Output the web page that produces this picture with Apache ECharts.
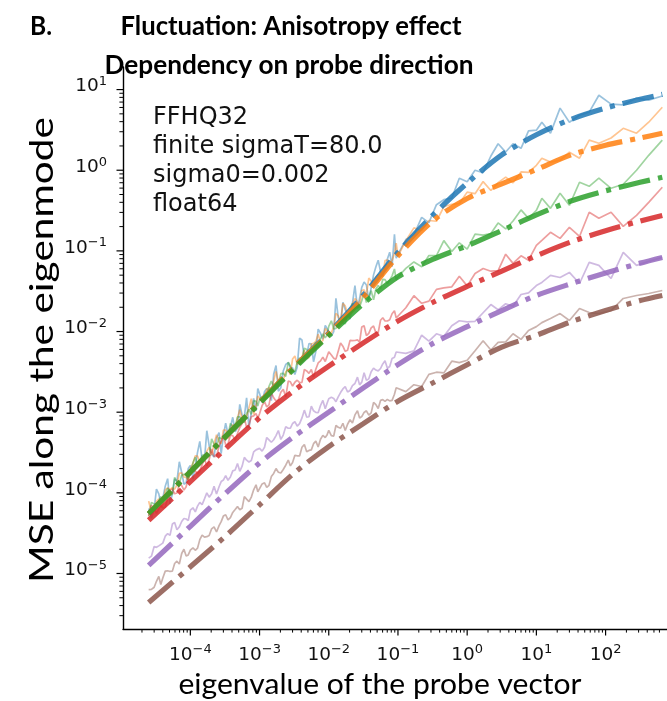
<!DOCTYPE html>
<html>
<head>
<meta charset="utf-8">
<script src="https://cdn.jsdelivr.net/npm/echarts@6/dist/echarts.min.js"></script>
<style>
  html, body { margin: 0; padding: 0; background: #fff; }
  #chart { width: 667px; height: 701px; }
</style>
</head>
<body>
<div id="chart"></div>
<script>
// Probe eigenvalues (x) shared by all measured curves
const eigvals = [
  2.5e-5, 2.74e-5, 3e-5, 3.24e-5, 3.5e-5, 3.74e-5, 4e-5, 4.34e-5, 4.7e-5, 5.08e-5, 5.5e-5, 5.93e-5, 6.4e-5, 6.93e-5, 7.5e-5, 8.08e-5, 8.7e-5, 9.33e-5,
  1e-4, 1.09e-4, 1.18e-4, 1.27e-4, 1.37e-4, 1.48e-4, 1.6e-4, 1.73e-4, 1.87e-4, 2.03e-4, 2.2e-4, 2.39e-4, 2.6e-4, 2.79e-4, 3e-4, 3.24e-4, 3.5e-4, 3.79e-4, 4.1e-4, 4.44e-4, 4.8e-4, 5.18e-4, 5.6e-4, 6.03e-4, 6.5e-4, 7.03e-4, 7.6e-4, 8.22e-4, 8.9e-4, 9.43e-4,
  1e-3, 1.09e-3, 1.18e-3, 1.27e-3, 1.37e-3, 1.48e-3, 1.6e-3, 1.73e-3, 1.87e-3, 2.03e-3, 2.2e-3, 2.39e-3, 2.6e-3, 2.79e-3, 3e-3, 3.24e-3, 3.5e-3, 3.79e-3, 4.1e-3, 4.44e-3, 4.8e-3, 5.18e-3, 5.6e-3, 6.03e-3, 6.5e-3, 7.03e-3, 7.6e-3, 8.22e-3, 8.9e-3, 9.43e-3,
  1e-2, 1.09e-2, 1.18e-2, 1.27e-2, 1.37e-2, 1.48e-2, 1.6e-2, 1.73e-2, 1.87e-2, 2.03e-2, 2.2e-2, 2.39e-2, 2.6e-2, 2.79e-2, 3e-2, 3.24e-2, 3.5e-2, 3.79e-2, 4.1e-2, 4.44e-2, 4.8e-2, 5.18e-2, 5.6e-2, 6.03e-2, 6.5e-2, 7.03e-2, 7.6e-2, 8.22e-2, 8.9e-2, 9.43e-2,
  0.1, 0.13, 0.17, 0.22, 0.28, 0.36, 0.46, 0.6, 0.77, 1, 1.3, 1.7, 2.2, 2.8, 3.6, 4.6, 6, 7.7,
  10, 12, 16, 22, 30, 42, 58, 80, 120, 180, 280, 420, 660
];

// Measured MSE along each eigenmode
const mseBlue = [
  6.4e-5, 4.85e-5, 6.3e-5, 1.11e-4, 9.7e-5, 7.48e-5, 8.6e-5, 1.21e-4, 1.5e-4, 7.29e-5, 9.7e-5, 1.49e-4, 1.39e-4, 2.43e-4, 1.79e-4, 1.28e-4, 1.34e-4, 2.0e-4,
  2.19e-4, 1.5e-4, 2.15e-4, 3.18e-4, 4.35e-4, 2.54e-4, 2.54e-4, 5.89e-4, 3.84e-4, 3.02e-4, 2.78e-4, 4.8e-4, 5.58e-4, 3.07e-4, 5.13e-4, 7.33e-4, 5.35e-4, 6.47e-4, 8.65e-4, 5.73e-4, 6.4e-4, 1.25e-3, 9.18e-4, 8.77e-4, 1.51e-3, 6.37e-4, 9.95e-4, 1.48e-3, 1.04e-3, 1.96e-3,
  1.7e-3, 1.32e-3, 1.79e-3, 1.97e-3, 1.82e-3, 1.39e-3, 2.95e-3, 3.79e-3, 1.82e-3, 2.01e-3, 3.24e-3, 3.9e-3, 4.12e-3, 3.56e-3, 3.55e-3, 2.94e-3, 3.61e-3, 8.28e-3, 7.85e-3, 4.65e-3, 5.04e-3, 7.08e-3, 7.05e-3, 4.22e-3, 5.66e-3, 1.07e-2, 9.55e-3, 8.05e-3, 1.19e-2, 1.21e-2,
  1.0e-2, 8.75e-3, 9.95e-3, 2.58e-2, 1.51e-2, 1.25e-2, 2.3e-2, 1.87e-2, 1.64e-2, 1.43e-2, 2.24e-2, 3.72e-2, 1.91e-2, 2.58e-2, 3.53e-2, 4.11e-2, 3.78e-2, 2.46e-2, 3.47e-2, 5.04e-2, 6.34e-2, 7.67e-2, 5.53e-2, 4.89e-2, 5.92e-2, 7.94e-2, 9.64e-2, 6.37e-2, 0.161, 8.1e-2,
  9.04e-2, 0.138, 0.158, 0.26, 0.224, 0.374, 0.431, 0.451, 0.796, 0.718, 1.0, 0.931, 1.5, 2.13, 1.68, 2.13, 1.87, 3.07,
  3.14, 3.94, 2.88, 5.89, 3.94, 4.82, 5.25, 8.51, 6.61, 6.46, 7.85, 7.41, 8.32
];
const mseOrange = [
  7.9e-5, 5.75e-5, 6.2e-5, 7.83e-5, 8.4e-5, 6.64e-5, 7.2e-5, 1.09e-4, 1.15e-4, 1.1e-4, 1.16e-4, 1.11e-4, 1.25e-4, 1.75e-4, 1.77e-4, 1.57e-4, 1.55e-4, 1.42e-4,
  2.0e-4, 2.31e-4, 2.88e-4, 2.86e-4, 2.36e-4, 2.52e-4, 2.54e-4, 3.27e-4, 3.68e-4, 2.95e-4, 4.0e-4, 5.25e-4, 4.32e-4, 4.07e-4, 6.0e-4, 6.0e-4, 4.72e-4, 6.12e-4, 7.03e-4, 5.97e-4, 8.5e-4, 1.07e-3, 8.22e-4, 8.57e-4, 8.73e-4, 1.13e-3, 1.47e-3, 9.38e-4, 1.19e-3, 1.58e-3,
  1.49e-3, 1.45e-3, 1.4e-3, 1.92e-3, 2.03e-3, 1.75e-3, 2.45e-3, 3.21e-3, 2.38e-3, 2.39e-3, 2.49e-3, 3.14e-3, 3.41e-3, 2.92e-3, 4.57e-3, 4.97e-3, 3.9e-3, 4.39e-3, 4.91e-3, 5.87e-3, 4.61e-3, 4.78e-3, 7.01e-3, 7.13e-3, 7.53e-3, 9.23e-3, 7.38e-3, 7.74e-3, 1.09e-2, 1.02e-2,
  1.01e-2, 9.64e-3, 1.14e-2, 1.68e-2, 1.57e-2, 1.29e-2, 2.23e-2, 2.08e-2, 1.65e-2, 1.85e-2, 2.19e-2, 2.56e-2, 2.34e-2, 2.14e-2, 3.23e-2, 3.29e-2, 2.86e-2, 4.61e-2, 4.21e-2, 3.69e-2, 4.74e-2, 5.09e-2, 4.92e-2, 4.84e-2, 7.59e-2, 7.71e-2, 7.05e-2, 7.59e-2, 9.27e-2, 0.125,
  8.63e-2, 0.134, 0.193, 0.179, 0.238, 0.233, 0.352, 0.378, 0.387, 0.535, 0.512, 0.723, 0.561, 0.703, 0.822, 0.697, 0.953, 0.94,
  1.15, 1.41, 1.26, 1.33, 1.67, 1.41, 2.36, 2.16, 2.51, 3.31, 2.88, 3.94, 6.03
];
const mseGreen = [
  5.1e-5, 7.62e-5, 7.28e-5, 6.34e-5, 7.94e-5, 8.95e-5, 8.41e-5, 9.23e-5, 1.15e-4, 9.2e-5, 9.66e-5, 1.55e-4, 1.37e-4, 1.31e-4, 1.65e-4, 1.7e-4, 1.63e-4, 1.46e-4,
  1.74e-4, 2.35e-4, 2.77e-4, 2.25e-4, 2.36e-4, 2.9e-4, 2.99e-4, 2.73e-4, 2.88e-4, 4.68e-4, 4.02e-4, 3.71e-4, 4.86e-4, 4.73e-4, 4.79e-4, 4.5e-4, 5.05e-4, 7.26e-4, 6.64e-4, 6.67e-4, 8.73e-4, 8.75e-4, 7.82e-4, 7.46e-4, 9.64e-4, 1.08e-3, 9.4e-4, 1.38e-3, 1.37e-3, 1.19e-3,
  1.45e-3, 1.55e-3, 1.47e-3, 1.51e-3, 2.09e-3, 2.43e-3, 2.07e-3, 1.96e-3, 2.23e-3, 3.0e-3, 3.03e-3, 2.78e-3, 4.17e-3, 3.71e-3, 3.27e-3, 3.2e-3, 4.19e-3, 4.69e-3, 4.47e-3, 6.22e-3, 5.98e-3, 5.09e-3, 5.41e-3, 6.64e-3, 7.38e-3, 6.31e-3, 8.13e-3, 9.35e-3, 8.36e-3, 9.02e-3,
  1.16e-2, 1.36e-2, 1.08e-2, 1.09e-2, 1.33e-2, 1.41e-2, 1.28e-2, 1.25e-2, 1.75e-2, 1.95e-2, 2.23e-2, 1.99e-2, 2.0e-2, 2.02e-2, 2.41e-2, 2.98e-2, 2.29e-2, 2.7e-2, 3.21e-2, 2.48e-2, 3.37e-2, 3.73e-2, 3.42e-2, 4.44e-2, 4.4e-2, 3.94e-2, 4.36e-2, 4.9e-2, 5.96e-2, 4.37e-2,
  4.74e-2, 6.08e-2, 7.29e-2, 6.34e-2, 8.75e-2, 8.73e-2, 0.134, 9.84e-2, 0.126, 0.105, 0.161, 0.157, 0.164, 0.222, 0.187, 0.235, 0.322, 0.253,
  0.318, 0.449, 0.337, 0.518, 0.367, 0.71, 0.632, 0.796, 0.597, 0.67, 1.0, 1.53, 2.36
];
const mseRed = [
  5.22e-5, 7.03e-5, 6.37e-5, 5.57e-5, 6.31e-5, 7.01e-5, 6.5e-5, 6.62e-5, 8.55e-5, 1.07e-4, 1.12e-4, 9.73e-5, 9.95e-5, 1.27e-4, 1.23e-4, 1.08e-4, 1.19e-4, 1.55e-4,
  1.7e-4, 1.96e-4, 1.86e-4, 1.72e-4, 1.86e-4, 2.24e-4, 2.64e-4, 2.16e-4, 2.59e-4, 3.49e-4, 2.83e-4, 2.84e-4, 3.84e-4, 4.34e-4, 5.14e-4, 3.93e-4, 4.03e-4, 5.18e-4, 5.13e-4, 4.46e-4, 5.43e-4, 6.47e-4, 7.21e-4, 8.51e-4, 6.46e-4, 6.9e-4, 8.81e-4, 8.99e-4, 9.64e-4, 8.37e-4,
  9.55e-4, 1.21e-3, 1.35e-3, 1.16e-3, 1.23e-3, 1.75e-3, 1.51e-3, 1.38e-3, 1.43e-3, 1.77e-3, 1.92e-3, 1.55e-3, 2.43e-3, 2.38e-3, 2.11e-3, 2.35e-3, 2.49e-3, 2.32e-3, 2.34e-3, 3.38e-3, 3.25e-3, 3.03e-3, 3.38e-3, 2.74e-3, 3.4e-3, 4.08e-3, 4.33e-3, 4.82e-3, 4.25e-3, 4.21e-3,
  5.62e-3, 5.12e-3, 4.65e-3, 4.55e-3, 5.68e-3, 7.21e-3, 6.58e-3, 5.68e-3, 5.86e-3, 7.76e-3, 7.73e-3, 7.74e-3, 7.87e-3, 7.4e-3, 1.14e-2, 1.18e-2, 8.89e-3, 9.51e-3, 1.11e-2, 1.17e-2, 9.62e-3, 9.68e-3, 1.38e-2, 1.48e-2, 1.35e-2, 1.35e-2, 1.4e-2, 1.66e-2, 1.81e-2, 1.47e-2,
  1.52e-2, 1.97e-2, 2.78e-2, 2.24e-2, 2.38e-2, 3.33e-2, 3.47e-2, 3.58e-2, 4.84e-2, 3.68e-2, 5.24e-2, 6.05e-2, 5.6e-2, 5.68e-2, 9.1e-2, 7.0e-2, 8.69e-2, 7.67e-2,
  0.117, 0.135, 0.17, 0.143, 0.196, 0.151, 0.301, 0.254, 0.301, 0.201, 0.276, 0.40, 0.615
];
const msePurple = [
  1.55e-5, 1.64e-5, 2.16e-5, 2.11e-5, 2.2e-5, 2.09e-5, 2.38e-5, 2.9e-5, 3.12e-5, 2.97e-5, 4.1e-5, 4.29e-5, 3.49e-5, 3.78e-5, 4.41e-5, 4.81e-5, 4.74e-5, 4.52e-5,
  6.1e-5, 6.53e-5, 5.81e-5, 6.85e-5, 7.62e-5, 7.13e-5, 8.41e-5, 1.0e-4, 8.83e-5, 9.77e-5, 1.21e-4, 9.68e-5, 1.19e-4, 1.38e-4, 1.44e-4, 1.64e-4, 1.43e-4, 1.57e-4, 1.87e-4, 1.92e-4, 2.31e-4, 1.85e-4, 2.14e-4, 2.75e-4, 2.54e-4, 2.41e-4, 2.52e-4, 3.21e-4, 3.41e-4, 3.31e-4,
  3.56e-4, 3.29e-4, 3.67e-4, 4.85e-4, 4.54e-4, 4.24e-4, 4.55e-4, 5.13e-4, 5.93e-4, 4.59e-4, 5.2e-4, 6.59e-4, 6.32e-4, 6.34e-4, 7.24e-4, 7.62e-4, 6.71e-4, 7.21e-4, 8.49e-4, 1.06e-3, 8.69e-4, 8.77e-4, 1.19e-3, 1.04e-3, 9.93e-4, 9.86e-4, 1.21e-3, 1.4e-3, 1.1e-3, 1.28e-3,
  1.47e-3, 1.53e-3, 1.48e-3, 1.35e-3, 1.55e-3, 1.75e-3, 1.94e-3, 2.07e-3, 1.78e-3, 1.86e-3, 2.14e-3, 2.27e-3, 2.72e-3, 2.18e-3, 2.36e-3, 3.08e-3, 2.48e-3, 2.59e-3, 3.17e-3, 3.52e-3, 3.33e-3, 3.25e-3, 3.48e-3, 3.97e-3, 4.34e-3, 3.51e-3, 3.69e-3, 4.62e-3, 4.8e-3, 5.58e-3,
  5.43e-3, 5.37e-3, 5.75e-3, 9.0e-3, 7.59e-3, 9.38e-3, 8.71e-3, 1.18e-2, 1.36e-2, 1.32e-2, 1.34e-2, 1.71e-2, 2.16e-2, 1.86e-2, 2.21e-2, 2.06e-2, 2.88e-2, 3.01e-2,
  3.72e-2, 4.06e-2, 4.97e-2, 4.68e-2, 5.41e-2, 3.94e-2, 7.19e-2, 6.61e-2, 4.55e-2, 9.57e-2, 6.61e-2, 7.41e-2, 8.3e-2
];
const mseBrown = [
  6.31e-6, 6.34e-6, 6.75e-6, 8.0e-6, 9.2e-6, 7.31e-6, 8.79e-6, 1.07e-5, 1.08e-5, 1.06e-5, 1.07e-5, 1.33e-5, 1.42e-5, 1.31e-5, 1.77e-5, 2.0e-5, 1.65e-5, 1.7e-5,
  1.95e-5, 2.08e-5, 1.94e-5, 2.06e-5, 2.63e-5, 2.99e-5, 2.82e-5, 2.86e-5, 2.96e-5, 3.58e-5, 3.78e-5, 3.27e-5, 3.92e-5, 4.39e-5, 5.15e-5, 5.35e-5, 4.61e-5, 4.94e-5, 5.71e-5, 6.21e-5, 6.75e-5, 6.17e-5, 6.44e-5, 8.99e-5, 8.37e-5, 7.8e-5, 8.85e-5, 1.09e-4, 1.26e-4, 1.03e-4,
  1.05e-4, 1.29e-4, 1.33e-4, 1.17e-4, 1.24e-4, 1.59e-4, 1.74e-4, 2.0e-4, 1.8e-4, 1.76e-4, 1.95e-4, 2.2e-4, 2.55e-4, 2.16e-4, 2.38e-4, 2.92e-4, 2.88e-4, 2.87e-4, 3.67e-4, 3.97e-4, 3.24e-4, 3.36e-4, 3.41e-4, 4.07e-4, 4.37e-4, 3.71e-4, 4.61e-4, 5.16e-4, 4.84e-4, 5.2e-4,
  5.96e-4, 5.12e-4, 5.06e-4, 6.84e-4, 6.5e-4, 6.32e-4, 7.29e-4, 5.92e-4, 7.08e-4, 8.05e-4, 7.33e-4, 9.25e-4, 1.04e-3, 8.45e-4, 8.83e-4, 9.93e-4, 1.04e-3, 9.2e-4, 9.82e-4, 1.32e-3, 1.24e-3, 1.11e-3, 1.4e-3, 1.43e-3, 1.36e-3, 1.44e-3, 1.38e-3, 1.4e-3, 1.67e-3, 2.01e-3,
  2.05e-3, 1.8e-3, 2.19e-3, 2.08e-3, 2.94e-3, 3.13e-3, 3.07e-3, 4.29e-3, 4.11e-3, 4.41e-3, 5.77e-3, 7.67e-3, 5.9e-3, 7.33e-3, 7.45e-3, 9.38e-3, 8.0e-3, 1.03e-2,
  1.15e-2, 1.29e-2, 1.45e-2, 1.67e-2, 1.37e-2, 1.93e-2, 1.72e-2, 1.67e-2, 1.82e-2, 2.57e-2, 2.8e-2, 2.96e-2, 3.23e-2
];

// Predicted MSE (dash-dot curves)
const theoryEig = [2.5e-5, 1e-4, 3.16e-4, 1e-3, 3.16e-3, 1e-2, 3.16e-2, 0.1, 0.316, 1, 3.16, 10, 31.6, 100, 316, 660];
const predBlue   = [5.5e-5, 1.82e-4, 4.9e-4, 1.32e-3, 3.63e-3, 9.55e-3, 2.82e-2, 9.55e-2, 0.275, 0.692, 1.55, 2.75, 4.27, 5.89, 7.59, 8.71];
const predOrange = [5.5e-5, 1.82e-4, 4.9e-4, 1.32e-3, 3.63e-3, 9.33e-3, 2.63e-2, 8.71e-2, 0.234, 0.447, 0.676, 1.02, 1.55, 2.04, 2.51, 2.88];
const predGreen  = [5.5e-5, 1.82e-4, 4.9e-4, 1.29e-3, 3.47e-3, 8.91e-3, 2.22e-2, 4.78e-2, 7.83e-2, 0.116, 0.179, 0.279, 0.415, 0.556, 0.708, 0.818];
const predRed    = [4.57e-5, 1.38e-4, 3.47e-4, 8.51e-4, 1.86e-3, 3.72e-3, 7.24e-3, 1.35e-2, 2.29e-2, 3.63e-2, 5.62e-2, 8.71e-2, 0.129, 0.178, 0.234, 0.275];
const predPurple = [1.26e-5, 3.85e-5, 9.72e-5, 2.34e-4, 5.01e-4, 1.0e-3, 2.0e-3, 3.89e-3, 7.08e-3, 1.15e-2, 1.82e-2, 2.8e-2, 3.91e-2, 5.31e-2, 7.05e-2, 8.3e-2];
const predBrown  = [4.37e-6, 1.21e-5, 2.86e-5, 7.1e-5, 1.76e-4, 3.74e-4, 7.21e-4, 1.37e-3, 2.3e-3, 3.88e-3, 6.41e-3, 8.99e-3, 1.32e-2, 1.82e-2, 2.42e-2, 2.8e-2];

// Decade exponents that carry tick labels
const xTickExps = [-4, -3, -2, -1, 0, 1, 2];
const yTickExps = [-5, -4, -3, -2, -1, 0, 1];

const titleLines = ['Fluctuation: Anisotropy effect', 'Dependency on probe direction'];
const panelTag = 'B.';
const xName = 'eigenvalue of the probe vector';
const yName = 'MSE along the eigenmode';
const infoLines = ['FFHQ32', 'finite sigmaT=80.0', 'sigma0=0.002', 'float64'];

// ---------------------------------------------------------------------------
const COLORS = ['#1f77b4', '#ff7f0e', '#2ca02c', '#d62728', '#9467bd', '#8c564b'];
const measured = [mseBlue, mseOrange, mseGreen, mseRed, msePurple, mseBrown];
const predicted = [predBlue, predOrange, predGreen, predRed, predPurple, predBrown];

const X_MIN = 1.064e-5, X_MAX = 1552;
const Y_MIN = 2.05e-6, Y_MAX = 19.05;
const GRID = { left: 123, top: 67, right: -21, bottom: 72 };

const measureCtx = document.createElement('canvas').getContext('2d');
function fitScale(text, weight, size, family, target) {
  measureCtx.font = weight + ' ' + size + 'px ' + family;
  return target / measureCtx.measureText(text).width;
}

const RICH = {
  b: { fontFamily: 'DejaVu Sans', fontSize: 18.5, lineHeight: 23, fill: '#111' },
  s: { fontFamily: 'DejaVu Sans', fontSize: 13, lineHeight: 13, padding: [0, 0, 10, 0], fill: '#111' }
};
function powLabel(v) {
  const e = Math.round(Math.log10(v));
  return '{b|10}{s|' + (e < 0 ? '\u2212' + (-e) : String(e)) + '}';
}

function minorValues(lo, hi, eFrom, eTo) {
  const out = [];
  for (let e = eFrom; e <= eTo; e++) {
    for (let m = 2; m <= 9; m++) {
      const v = m * Math.pow(10, e);
      if (v > lo && v < hi) out.push(v);
    }
  }
  return out;
}

function tickSeries(dir, values, len, width, labelled) {
  return {
    type: 'custom',
    coordinateSystem: 'cartesian2d',
    silent: true,
    clip: false,
    z: 10,
    animation: false,
    data: values.map(v => dir === 'x' ? [v, Y_MIN] : [X_MIN, v]),
    renderItem(params, api) {
      const cs = params.coordSys;
      const children = [];
      if (dir === 'x') {
        const v = api.value(0);
        const px = api.coord([v, Y_MIN])[0];
        const y0 = cs.y + cs.height;
        children.push({ type: 'line', shape: { x1: px, y1: y0, x2: px, y2: y0 + len },
          style: { stroke: '#000', lineWidth: width } });
        if (labelled) {
          children.push({ type: 'text', x: px, y: y0 + 26,
            style: { text: powLabel(v), rich: RICH, align: 'center', verticalAlign: 'middle', fill: '#111' } });
        }
      } else {
        const v = api.value(1);
        const py = api.coord([X_MIN, v])[1];
        const x0 = cs.x;
        children.push({ type: 'line', shape: { x1: x0, y1: py, x2: x0 - len, y2: py },
          style: { stroke: '#000', lineWidth: width } });
        if (labelled) {
          children.push({ type: 'text', x: x0 - 16, y: py - 3,
            style: { text: powLabel(v), rich: RICH, align: 'right', verticalAlign: 'middle', fill: '#111' } });
        }
      }
      return { type: 'group', children };
    }
  };
}

const series = [];
COLORS.forEach((c, k) => {
  series.push({
    type: 'line', silent: true, showSymbol: false, animation: false, z: 2,
    data: eigvals.map((x, i) => [x, measured[k][i]]),
    lineStyle: { color: c, width: 1.7, opacity: 0.45 }
  });
  series.push({
    type: 'line', silent: true, showSymbol: false, animation: false, z: 3, smooth: 0.3,
    data: theoryEig.map((x, i) => [x, predicted[k][i]]),
    lineStyle: { color: c, width: 5.2, opacity: 0.85, type: [32, 8, 5, 8], cap: 'butt' }
  });
});
series.push(tickSeries('x', xTickExps.map(e => Math.pow(10, e)), 6.5, 1.2, true));
series.push(tickSeries('x', minorValues(X_MIN, 700, -5, 2), 3.6, 1.0, false));
series.push(tickSeries('y', yTickExps.map(e => Math.pow(10, e)), 6.5, 1.2, true));
series.push(tickSeries('y', minorValues(Y_MIN, Y_MAX, -6, 1), 3.6, 1.0, false));

const TITLE_FS = 26.5;
const graphics = [
  { type: 'text', x: 30, y: 26, scaleX: fitScale(panelTag, 'bold', TITLE_FS, 'Lato', 22),
    style: { text: panelTag, fontSize: TITLE_FS, fontWeight: 'bold', fontFamily: 'Lato', fill: '#000', align: 'left', verticalAlign: 'middle' } },
  { type: 'text', x: 291, y: 26, scaleX: fitScale(titleLines[0], 'bold', TITLE_FS, 'Lato', 341),
    style: { text: titleLines[0], fontSize: TITLE_FS, fontWeight: 'bold', fontFamily: 'Lato', fill: '#000', align: 'center', verticalAlign: 'middle' } },
  { type: 'text', x: 289, y: 65.5, scaleX: fitScale(titleLines[1], 'bold', TITLE_FS, 'Lato', 369),
    style: { text: titleLines[1], fontSize: TITLE_FS, fontWeight: 'bold', fontFamily: 'Lato', fill: '#000', align: 'center', verticalAlign: 'middle' } },
  { type: 'text', x: 380, y: 685, scaleX: fitScale(xName, 'normal', 28, 'Lato', 403),
    style: { text: xName, fontSize: 28, fontFamily: 'Lato', fill: '#000', align: 'center', verticalAlign: 'middle' } },
  { type: 'text', x: 43, y: 350, rotation: Math.PI / 2, scaleX: fitScale(yName, 'normal', 32, 'Lato', 466),
    style: { text: yName, fontSize: 32, fontFamily: 'Lato', fill: '#000', align: 'center', verticalAlign: 'middle' } },
  { type: 'text', x: 153, y: 103.3,
    style: { text: infoLines.join('\n'), fontSize: 24, lineHeight: 29, fontFamily: 'DejaVu Sans', fill: '#111', align: 'left', verticalAlign: 'top' } }
];

const chart = echarts.init(document.getElementById('chart'), null, { renderer: 'canvas' });
chart.setOption({
  backgroundColor: '#fff',
  animation: false,
  grid: Object.assign({ containLabel: false, outerBoundsMode: 'none' }, GRID),
  xAxis: {
    type: 'log', logBase: 10, min: X_MIN, max: X_MAX,
    axisLine: { show: true, onZero: false, lineStyle: { color: '#000', width: 1.4 } },
    axisTick: { show: false }, axisLabel: { show: false }, splitLine: { show: false }
  },
  yAxis: {
    type: 'log', logBase: 10, min: Y_MIN, max: Y_MAX,
    axisLine: { show: true, onZero: false, lineStyle: { color: '#000', width: 1.4 } },
    axisTick: { show: false }, axisLabel: { show: false }, splitLine: { show: false }
  },
  graphic: graphics,
  series
});
</script>
</body>
</html>
